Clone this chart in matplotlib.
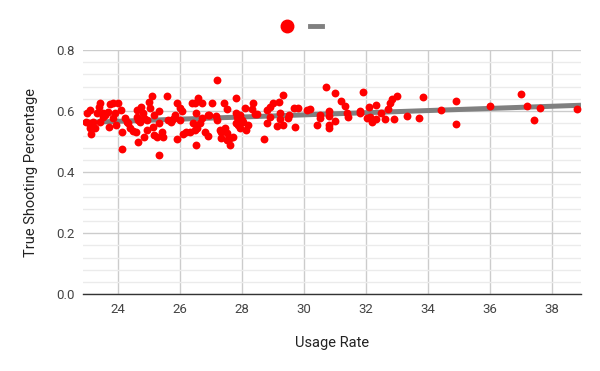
import numpy as np
import matplotlib
matplotlib.use("Agg")
import matplotlib.pyplot as plt
from matplotlib.lines import Line2D
from matplotlib.ticker import MultipleLocator

plt.rcParams['font.family'] = ['Roboto', 'DejaVu Sans']

# usage rate / true shooting percentage
usage = [
    25.08, 25.58, 25.00, 24.00, 23.41, 23.73, 23.82, 25.90, 26.37, 26.58, 26.47, 23.39,
    22.98, 23.09, 23.30, 23.50, 23.57, 23.68, 23.89, 24.08, 24.59, 24.72, 24.79, 25.02,
    25.15, 25.30, 25.99, 26.04, 26.51,
    22.96, 23.07, 23.19, 23.41, 23.52, 23.82, 24.22, 24.27, 24.32, 24.59, 24.65, 24.70,
    24.83, 24.92, 25.32, 25.61, 25.69, 25.78, 25.83, 25.99, 26.42,
    23.09, 23.25, 23.19, 23.11, 23.71, 23.93, 24.11, 24.38, 24.48, 24.57, 24.92, 25.11,
    25.15, 25.24, 25.40, 25.45, 26.10, 26.18, 26.31, 26.47, 26.53, 24.83, 24.65,
    24.11, 25.90, 26.51, 25.32,
    27.19, 27.80, 29.30, 29.19, 29.00, 28.89, 28.79, 28.36, 28.09, 28.30, 27.41, 27.50,
    27.01, 26.69, 26.69, 26.90, 26.94, 27.15, 27.17, 27.80, 27.84, 27.93, 28.41, 28.48,
    29.22, 29.52, 29.48, 29.68, 29.80, 30.10, 30.20,
    26.64, 27.80, 27.87, 27.98, 28.01, 27.93, 28.19, 28.12, 28.79, 28.89, 29.11, 29.22,
    29.30, 29.70, 30.40,
    26.80, 26.90, 27.28, 27.33, 27.44, 27.50, 27.30, 27.50, 27.60, 27.69, 27.60, 28.70,
    30.70, 30.99, 31.90, 31.20, 31.31, 33.00, 33.82, 32.82, 32.78, 32.10, 32.31, 30.81,
    30.51, 30.51, 30.81, 31.39, 31.42, 31.79, 31.79, 32.49, 32.71, 32.01, 32.12, 32.20,
    32.31, 32.60, 32.89, 33.30, 33.70, 30.81, 30.81, 30.99,
    34.89, 34.89, 36.01, 37.00, 37.20, 37.41, 37.60, 38.81, 34.40,
]
ts_pct = [
    0.649, 0.649, 0.631, 0.628, 0.628, 0.623, 0.625, 0.628, 0.625, 0.642, 0.628, 0.614,
    0.593, 0.604, 0.593, 0.593, 0.587, 0.598, 0.595, 0.604, 0.604, 0.614, 0.593, 0.609,
    0.587, 0.601, 0.609, 0.601, 0.593,
    0.565, 0.560, 0.565, 0.565, 0.580, 0.578, 0.576, 0.565, 0.562, 0.582, 0.571, 0.565,
    0.576, 0.571, 0.562, 0.571, 0.565, 0.573, 0.587, 0.571, 0.560,
    0.544, 0.544, 0.549, 0.525, 0.549, 0.554, 0.533, 0.544, 0.536, 0.533, 0.538, 0.549,
    0.522, 0.516, 0.533, 0.516, 0.525, 0.533, 0.533, 0.538, 0.544, 0.514, 0.500,
    0.475, 0.509, 0.489, 0.456,
    0.702, 0.642, 0.653, 0.631, 0.625, 0.614, 0.604, 0.628, 0.609, 0.606, 0.628, 0.606,
    0.625, 0.625, 0.576, 0.587, 0.587, 0.584, 0.571, 0.593, 0.582, 0.587, 0.590, 0.590,
    0.595, 0.587, 0.576, 0.610, 0.611, 0.603, 0.606,
    0.560, 0.560, 0.554, 0.571, 0.565, 0.544, 0.554, 0.538, 0.562, 0.580, 0.551, 0.573,
    0.554, 0.547, 0.554,
    0.533, 0.518, 0.538, 0.533, 0.544, 0.529, 0.511, 0.505, 0.511, 0.514, 0.489, 0.509,
    0.678, 0.658, 0.661, 0.634, 0.617, 0.650, 0.645, 0.638, 0.627, 0.614, 0.620, 0.601,
    0.587, 0.576, 0.584, 0.595, 0.582, 0.601, 0.593, 0.593, 0.606, 0.576, 0.580, 0.565,
    0.573, 0.573, 0.573, 0.584, 0.576, 0.554, 0.544, 0.569,
    0.634, 0.558, 0.618, 0.656, 0.617, 0.571, 0.609, 0.606, 0.604,
]
x_ticks = [24, 26, 28, 30, 32, 34, 36, 38]
y_ticks = [0.0, 0.2, 0.4, 0.6, 0.8]

x = np.array(usage)
y = np.array(ts_pct)

fig = plt.figure(figsize=(6, 3.71), dpi=100)
ax = fig.add_axes([0.1388, 0.2067, 0.8295, 0.6585])

# linear trendline
slope, icpt = np.polyfit(x, y, 1)
xl = np.array([22.87, 38.93])
ax.plot(xl, slope * xl + icpt, color='#808080', lw=3.6, zorder=2,
        solid_capstyle='butt')

ax.scatter(x, y, s=32, color='#ff0000', linewidths=0, zorder=3)

ax.set_xlim(22.87, 38.93)
ax.set_ylim(0, 0.8)
ax.set_xticks(x_ticks)
ax.set_yticks(y_ticks)
ax.set_yticklabels([f"{v:.1f}" for v in y_ticks])
ax.yaxis.set_minor_locator(MultipleLocator(0.04))

ax.grid(True, which='major', color='#cccccc', lw=1.0, zorder=0)
ax.grid(True, which='minor', axis='y', color='#ebebeb', lw=1.0, zorder=0)
ax.set_axisbelow(True)

for s in ['top', 'right', 'left']:
    ax.spines[s].set_visible(False)
ax.spines['bottom'].set_color('#333333')
ax.spines['bottom'].set_linewidth(1.0)

ax.tick_params(axis='both', which='both', length=0, labelsize=9.5, colors='#444444')
ax.tick_params(axis='x', pad=6)
ax.tick_params(axis='y', pad=6)

ax.set_xlabel('Usage Rate', fontsize=10.5, color='#222222', labelpad=15)
ax.set_ylabel('True Shooting Percentage', fontsize=10.5, color='#222222', labelpad=13)

handles = [
    Line2D([], [], marker='o', ls='none', color='#ff0000', markersize=9),
    Line2D([], [], color='#808080', lw=3.5),
]
fig.legend(handles, ['', ''], loc='center', bbox_to_anchor=(0.5025, 0.927), ncol=2,
           frameon=False, handlelength=0.9, columnspacing=1.2, handletextpad=0.0)

fig.savefig('out.png', dpi=100)
